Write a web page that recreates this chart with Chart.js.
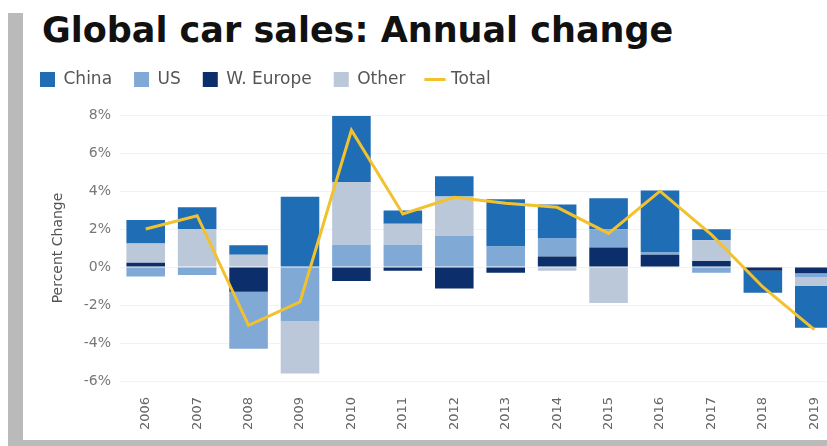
<!DOCTYPE html>
<html>
<head>
<meta charset="utf-8">
<script src="https://cdn.jsdelivr.net/npm/chart.js@4.4.1/dist/chart.umd.min.js"></script>
<style>
html, body { margin: 0; padding: 0; width: 827px; height: 446px; overflow: hidden; background: #fff; }
#frameLeft { position: absolute; left: 8px; top: 13px; width: 15px; height: 433px; background: #bababa; }
#frameBottom { position: absolute; left: 8px; top: 440px; width: 819px; height: 6px; background: #bababa; }
#title { position: absolute; left: 42px; top: 13px; font: bold 35px/35px 'DejaVu Sans', sans-serif; color: #111; white-space: nowrap; }
#chartBox { position: absolute; left: 18px; top: 49px; width: 822px; height: 391px; }
</style>
</head>
<body>
<div id="frameLeft"></div>
<div id="frameBottom"></div>
<div id="title">Global car sales: Annual change</div>
<div id="chartBox"><canvas id="salesChart"></canvas></div>
<script>
// annual change in percent
var years = ['2006', '2007', '2008', '2009', '2010', '2011', '2012', '2013', '2014', '2015', '2016', '2017', '2018', '2019'];
var china = [1.24, 1.15, 0.5, 3.7, 3.48, 0.71, 1.06, 2.49, 1.77, 1.63, 3.27, 0.58, -1.15, -2.2];
var us = [-0.5, -0.42, -3.0, -2.86, 1.17, 1.17, 1.64, 1.08, 0.97, 0.97, 0.12, -0.3, 0, -0.2];
var wEurope = [0.22, 0, -1.3, 0, -0.74, -0.2, -1.13, -0.3, 0.55, 1.02, 0.64, 0.32, -0.2, -0.33];
var other = [1.02, 2.0, 0.65, -2.74, 3.3, 1.1, 2.07, 0, -0.2, -1.89, 0, 1.09, 0, -0.47];
var total = [2.0, 2.7, -3.07, -1.84, 7.2, 2.79, 3.67, 3.36, 3.14, 1.77, 3.99, 1.7, -1.05, -3.3];
var yTicks = [-6, -4, -2, 0, 2, 4, 6, 8];

var legendOrder = { 'China': 0, 'US': 1, 'W. Europe': 2, 'Other': 3, 'Total': 4 };

Chart.defaults.font.family = "'DejaVu Sans', sans-serif";

// extra room between legend and plot
var legendSpacing = {
    id: 'legendSpacing',
    beforeInit: function(chart) {
        var originalFit = chart.legend.fit;
        chart.legend.fit = function() {
            originalFit.call(this);
            this.height += 17;
        };
    }
};

function barSet(label, values, color) {
    return {
        label: label,
        data: values,
        backgroundColor: color,
        borderWidth: 0,
        stack: 'cars',
        categoryPercentage: 0.75,
        barPercentage: 1.0
    };
}

var ctx = document.getElementById('salesChart').getContext('2d');
var salesChart = new Chart(ctx, {
    type: 'bar',
    data: {
        labels: years,
        // stacking goes outward from zero in this order, Total first so it is drawn on top
        datasets: [
            {
                type: 'line',
                label: 'Total',
                data: total,
                borderColor: '#f2c12e',
                backgroundColor: '#f2c12e',
                borderWidth: 3,
                pointRadius: 0,
                tension: 0,
                fill: false,
                stack: 'total'
            },
            barSet('W. Europe', wEurope, '#0c2f6b'),
            barSet('US', us, '#80a9d6'),
            barSet('Other', other, '#bac8d9'),
            barSet('China', china, '#1f6db4')
        ]
    },
    options: {
        responsive: true,
        maintainAspectRatio: false,
        animation: false,
        layout: { padding: 0 },
        plugins: {
            tooltip: { enabled: false },
            legend: {
                position: 'top',
                align: 'start',
                labels: {
                    usePointStyle: true,
                    boxWidth: 15,
                    boxHeight: 15,
                    padding: 22,
                    color: '#555',
                    font: { size: 17 },
                    generateLabels: function(chart) {
                        var items = Chart.defaults.plugins.legend.labels.generateLabels(chart);
                        items.forEach(function(item) {
                            item.pointStyle = item.text === 'Total' ? 'line' : 'rect';
                        });
                        return items;
                    },
                    sort: function(a, b) {
                        return legendOrder[a.text] - legendOrder[b.text];
                    }
                }
            }
        },
        scales: {
            x: {
                stacked: true,
                grid: { display: false },
                border: { display: false },
                ticks: {
                    color: '#666',
                    font: { size: 13 },
                    minRotation: 90,
                    maxRotation: 90,
                    padding: 8
                },
                afterFit: function(scale) { scale.height = 59; }
            },
            y: {
                stacked: true,
                min: yTicks[0],
                max: yTicks[yTicks.length - 1],
                afterBuildTicks: function(scale) {
                    scale.ticks = yTicks.map(function(v) { return { value: v }; });
                },
                ticks: {
                    color: '#777',
                    font: { size: 14 },
                    padding: 9,
                    callback: function(v) { return v + '%'; }
                },
                grid: { color: 'rgba(0,0,0,0.05)', drawTicks: false },
                border: { display: false },
                title: {
                    display: true,
                    text: 'Percent Change',
                    color: '#555',
                    font: { size: 14 },
                    padding: { top: 32, bottom: 0 }
                },
                afterFit: function(scale) { scale.width = 102; }
            }
        }
    },
    plugins: [legendSpacing]
});
</script>
</body>
</html>
